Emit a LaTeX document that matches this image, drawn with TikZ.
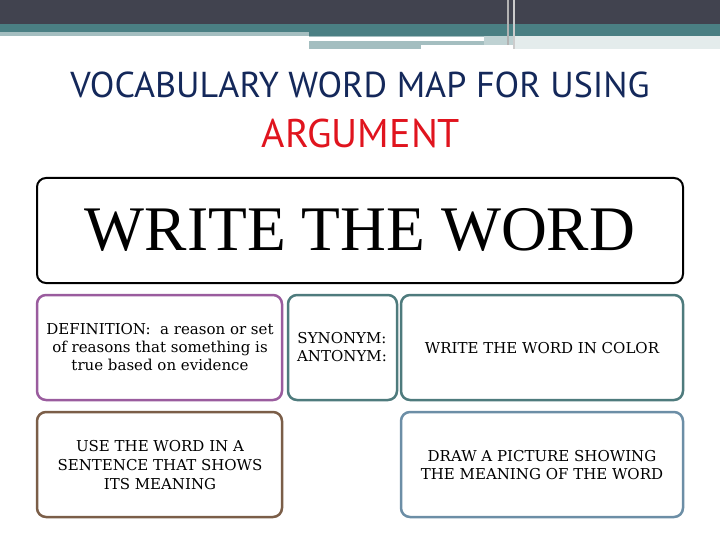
\documentclass[tikz,border=0pt]{standalone}
\usepackage{fontspec}
\setmainfont{Liberation Serif}
\newfontfamily\titlefont{PT Sans}
\newfontfamily\cardfont{DejaVu Serif}
\definecolor{bandDark}{HTML}{41434F}
\definecolor{bandTeal}{HTML}{4A7F83}
\definecolor{bandLight}{HTML}{A4BEC0}
\definecolor{titleBlue}{HTML}{14285A}
\definecolor{titleRed}{HTML}{E0141E}
\definecolor{cPurple}{HTML}{9A5C9E}
\definecolor{cTeal}{HTML}{4E7B7D}
\definecolor{cBrown}{HTML}{7B5E48}
\definecolor{cBlue}{HTML}{6C8EA6}
\tikzset{
  cardtext/.style={font=\cardfont\fontsize{15}{18}\selectfont, align=center},
}
\begin{document}
\begin{tikzpicture}[x=1pt,y=-1pt]
\useasboundingbox (0,0) rectangle (720,540);
% header bands
\fill[bandDark] (0,0) rectangle (720,24);
\fill[bandTeal] (0,24) rectangle (720,32);
\fill[bandLight] (0,32) rectangle (309,36);
\fill[bandTeal] (309,32) rectangle (720,36);
\fill[bandLight] (309,36) rectangle (720,39);
\fill[white] (309,37) rectangle (484,39);
\fill[bandLight] (309,41) rectangle (484,45);
\fill[bandLight] (309,45) rectangle (421,49);
\fill[bandLight!70] (484,36) rectangle (720,45);
\fill[white!85!bandTeal] (514,36) rectangle (720,49);
\fill[gray!60] (507,0) rectangle (509,45);
\fill[gray!40] (513,0) rectangle (515,49);
% title
\node[font=\titlefont\fontsize{36}{40}\selectfont, text=titleBlue, anchor=base] (t1) at (360,98) {VOCABULARY WORD MAP FOR USING};
\node[font=\titlefont\fontsize{40}{44}\selectfont, text=titleRed, anchor=base] (t2) at (361,148) {ARGUMENT};
% main box
\draw[line width=2pt, rounded corners=9pt] (37,178) rectangle (683,283);
\node[font=\fontsize{63.5}{70}\selectfont, anchor=base] (word) at (360,250) {WRITE THE WORD};
% cards
\draw[cPurple, line width=2.5pt, rounded corners=9pt] (37,295) rectangle (282,400);
\node[cardtext] (def) at (160,347) {DEFINITION:\ \ a reason or set\\of reasons that something is\\true based on evidence};
\draw[cTeal, line width=2.5pt, rounded corners=9pt] (288,295) rectangle (397,400);
\node[cardtext] (syn) at (342,347) {SYNONYM:\\ANTONYM:};
\draw[cTeal, line width=2.5pt, rounded corners=9pt] (401,295) rectangle (683,400);
\node[cardtext] (col) at (542,348) {WRITE THE WORD IN COLOR};
\draw[cBrown, line width=2.5pt, rounded corners=9pt] (37,412) rectangle (282,517);
\node[cardtext, font=\cardfont\fontsize{15}{19}\selectfont] (use) at (160,465) {USE THE WORD IN A\\SENTENCE THAT SHOWS\\ITS MEANING};
\draw[cBlue, line width=2.5pt, rounded corners=9pt] (401,412) rectangle (683,517);
\node[cardtext] (pic) at (542,465) {DRAW A PICTURE SHOWING\\THE MEANING OF THE WORD};
\end{tikzpicture}
\end{document}
